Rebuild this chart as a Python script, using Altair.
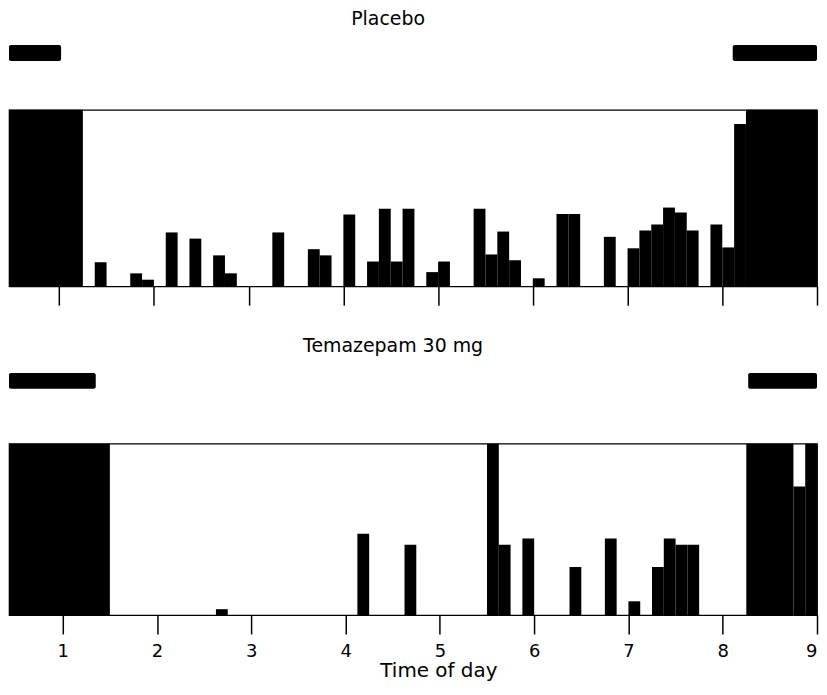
import altair as alt
import pandas as pd

# ---- data ----
BIN = 0.125  # bin width (time-of-day units)

placebo_bins = [1.375, 1.75, 1.875, 2.125, 2.375, 2.625, 2.75, 3.25, 3.625, 3.75,
                4.0, 4.25, 4.375, 4.5, 4.625, 4.875, 5.0, 5.375, 5.5, 5.625,
                5.75, 6.0, 6.25, 6.375, 6.75, 7.0, 7.125, 7.25, 7.375, 7.5,
                7.625, 7.875, 8.0, 8.125]
placebo_vals = [13.6, 7.3, 3.7, 30.5, 27, 17.5, 7.3, 30.5, 21, 17.5,
                40.7, 14, 44, 14, 44, 8, 14, 44, 18, 31,
                14.7, 4.5, 41, 41, 28, 21.5, 31.6, 35, 44.6, 41.8,
                31.6, 35, 22, 92]
placebo_block_start = [0.47, 8.25]
placebo_block_end = [1.25, 9.0]
placebo_block_vals = [100, 100]
placebo_sleep_start = [0.47, 8.11]
placebo_sleep_end = [1.02, 9.0]

tema_bins = [2.625, 4.125, 4.625, 5.5, 5.625, 5.875, 6.375, 6.75, 7.0, 7.25,
             7.375, 7.5, 7.625]
tema_vals = [3.4, 47.4, 41, 100, 41, 44.6, 28, 44.6, 8, 28,
             44.6, 41, 41]
tema_block_start = [0.43, 8.25, 8.75, 8.875]
tema_block_end = [1.5, 8.75, 8.875, 9.0]
tema_block_vals = [100, 100, 75, 100]
tema_sleep_start = [0.43, 8.27]
tema_sleep_end = [1.35, 9.0]

tick_values = [1, 2, 3, 4, 5, 6, 7, 8, 9]

FONT = "DejaVu Sans"
W = 811


def hist_df(bins, vals, bstart, bend, bvals):
    rows = [{"start": b, "end": b + BIN, "value": v} for b, v in zip(bins, vals)]
    rows += [{"start": s, "end": e, "value": v} for s, e, v in zip(bstart, bend, bvals)]
    return pd.DataFrame(rows)


def strip(title, starts, ends, domain, dx, offset):
    df = pd.DataFrame({"start": starts, "end": ends})
    return alt.Chart(df).mark_rect(color="black", cornerRadius=2).encode(
        x=alt.X("start:Q", scale=alt.Scale(domain=domain, nice=False, zero=False), axis=None),
        x2="end:Q",
    ).properties(
        width=W, height=16,
        title=alt.TitleParams(title, font=FONT, fontSize=19, fontWeight="normal",
                              color="black", anchor="middle", dx=dx, offset=offset),
        view=alt.ViewBackground(stroke="transparent"),
    )


def hist(df, domain, height, labels):
    if labels:
        axis = alt.Axis(values=tick_values, tickSize=19, tickWidth=1.5, tickColor="black",
                        domainColor="black", domainWidth=1.2, grid=False,
                        labelFont=FONT, labelFontSize=18, labelColor="black",
                        labelPadding=9, labelFlush=True, format="d",
                        title="Time of day", titleFont=FONT, titleFontSize=20,
                        titleFontWeight="normal", titleColor="black",
                        titlePadding=0, titleX=431)
    else:
        axis = alt.Axis(values=tick_values, tickSize=19, tickWidth=1.5, tickColor="black",
                        domainColor="black", domainWidth=1.2, grid=False,
                        labels=False, title=None)
    return alt.Chart(df).mark_rect(color="black").encode(
        x=alt.X("start:Q", scale=alt.Scale(domain=domain, nice=False, zero=False), axis=axis),
        x2="end:Q",
        y=alt.Y("value:Q", scale=alt.Scale(domain=[0, 100], nice=False), axis=None),
        y2=alt.datum(0),
    ).properties(
        width=W, height=height,
        view=alt.ViewBackground(stroke="black", strokeWidth=1.2),
    )


dom_top = [0.47, 9.0]
dom_bot = [0.43, 9.0]

top = alt.vconcat(
    strip("Placebo", placebo_sleep_start, placebo_sleep_end, dom_top, -25, 16),
    hist(hist_df(placebo_bins, placebo_vals, placebo_block_start, placebo_block_end,
                 placebo_block_vals), dom_top, 177, False),
    spacing=47,
).resolve_scale(x="independent", y="independent")

bot = alt.vconcat(
    strip("Temazepam 30 mg", tema_sleep_start, tema_sleep_end, dom_bot, -20, 17),
    hist(hist_df(tema_bins, tema_vals, tema_block_start, tema_block_end,
                 tema_block_vals), dom_bot, 172, True),
    spacing=53,
).resolve_scale(x="independent", y="independent")

chart = alt.vconcat(top, bot, spacing=29).resolve_scale(
    x="independent", y="independent"
).properties(padding=0, background="white")

chart.save("out.html", embed_options={"renderer": "svg", "actions": False})
